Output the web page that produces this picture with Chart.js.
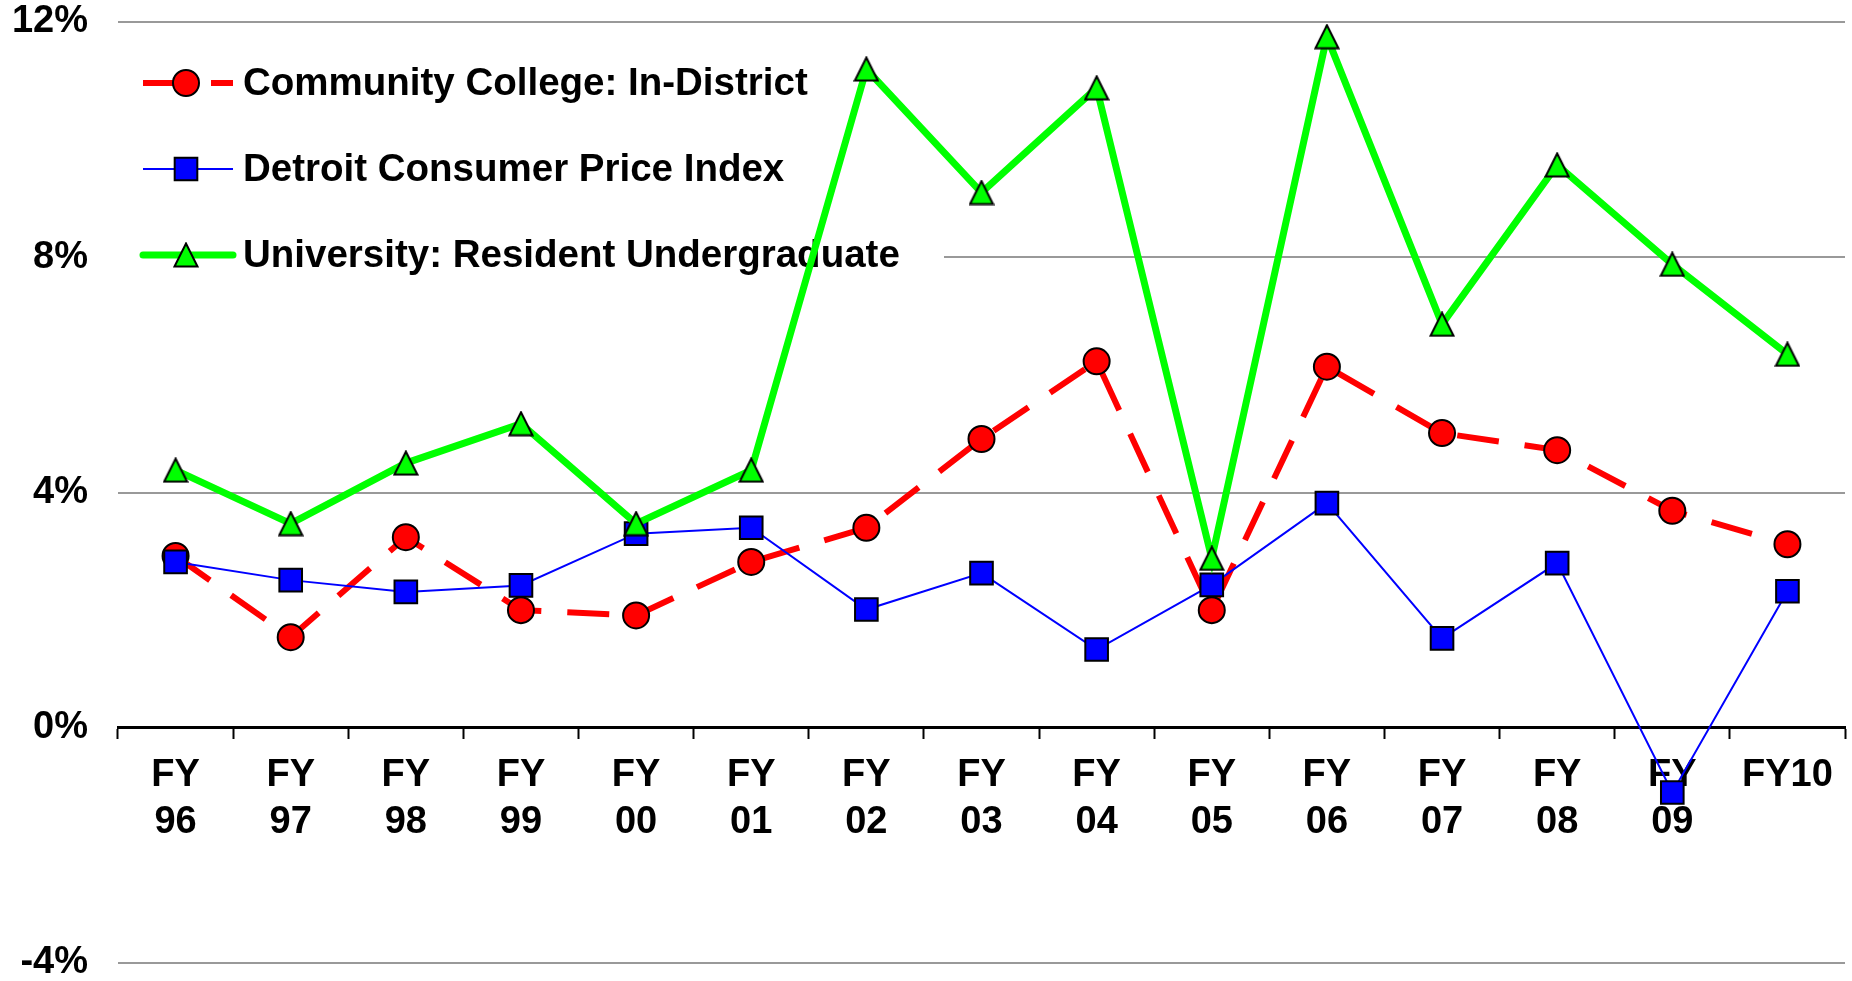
<!DOCTYPE html>
<html>
<head>
<meta charset="utf-8">
<title>Tuition increases vs Detroit CPI</title>
<script src="https://cdn.jsdelivr.net/npm/chart.js@4/dist/chart.umd.min.js"></script>
<style>
	html, body { margin: 0; padding: 0; background: #fff; overflow: hidden; }
	#wrap { position: relative; width: 1852px; height: 981px; }
	#wrap canvas { display: block; }
</style>
</head>
<body>
<div id="wrap"><canvas id="chart"></canvas></div>
<script>
// fiscal years on the x axis (two-line labels like the original)
var fiscalYears = [
	['FY', '96'], ['FY', '97'], ['FY', '98'], ['FY', '99'], ['FY', '00'],
	['FY', '01'], ['FY', '02'], ['FY', '03'], ['FY', '04'], ['FY', '05'],
	['FY', '06'], ['FY', '07'], ['FY', '08'], ['FY', '09'], 'FY10'
];

// yearly % increase
var communityCollege = [2.92, 1.54, 3.24, 2.0, 1.91, 2.82, 3.4, 4.91, 6.23, 2.0, 6.14, 5.01, 4.72, 3.69, 3.12];
var detroitCPI = [2.82, 2.51, 2.31, 2.42, 3.3, 3.4, 2.01, 2.63, 1.33, 2.43, 3.82, 1.52, 2.8, -1.1, 2.32];
var university = [4.38, 3.47, 4.5, 5.17, 3.47, 4.38, 11.2, 9.1, 10.88, 2.88, 11.75, 6.86, 9.57, 7.88, 6.35];

var yTicks = { min: -4, max: 12, step: 4 };

var FONT = "'Liberation Sans', Arial, Helvetica, sans-serif";

// Excel-ish triangle marker (equal width and height, centred on the point)
function makeTriangle(size, fill) {
	var c = document.createElement('canvas');
	c.width = size; c.height = size;
	var g = c.getContext('2d');
	g.beginPath();
	g.moveTo(size / 2, 1.5);
	g.lineTo(size - 1.5, size - 1.5);
	g.lineTo(1.5, size - 1.5);
	g.closePath();
	g.fillStyle = fill;
	g.fill();
	g.lineWidth = 2;
	g.strokeStyle = '#000';
	g.stroke();
	return c;
}

function drawMarker(ctx, ds, x, y) {
	var st = ds.pointStyle;
	if (st instanceof HTMLCanvasElement) {
		ctx.drawImage(st, x - st.width / 2, y - st.height / 2);
		return;
	}
	var r = ds.pointRadius;
	ctx.beginPath();
	if (st === 'rect') {
		var s = r * Math.SQRT1_2;
		ctx.rect(x - s, y - s, 2 * s, 2 * s);
	} else {
		ctx.arc(x, y, r, 0, Math.PI * 2);
	}
	ctx.fillStyle = ds.pointBackgroundColor;
	ctx.strokeStyle = ds.pointBorderColor;
	ctx.lineWidth = ds.pointBorderWidth;
	ctx.setLineDash([]);
	ctx.fill();
	ctx.stroke();
}

// legend drawn inside the plot, over the grid but under the lines
var insideLegend = {
	id: 'insideLegend',
	beforeDatasetsDraw: function(chart, args, opts) {
		var ctx = chart.ctx;
		var area = chart.chartArea;
		ctx.save();
		ctx.fillStyle = '#fff';
		ctx.fillRect(area.left, opts.top, opts.boxRight - area.left, opts.boxBottom - opts.top);
		chart.data.datasets.forEach(function(ds, i) {
			var y = opts.firstY + i * opts.rowGap;
			ctx.save();
			ctx.beginPath();
			ctx.moveTo(opts.lineFrom, y);
			ctx.lineTo(opts.lineTo, y);
			ctx.strokeStyle = ds.borderColor;
			ctx.lineWidth = ds.borderWidth;
			ctx.lineCap = ds.legendCap || 'butt';
			ctx.setLineDash(ds.borderDash || []);
			ctx.stroke();
			ctx.restore();
			drawMarker(ctx, ds, opts.markerX, y);
			ctx.fillStyle = '#000';
			ctx.font = 'bold 38.5px ' + FONT;
			ctx.textBaseline = 'middle';
			ctx.textAlign = 'left';
			ctx.fillText(ds.label, opts.textX, y + 1);
		});
		ctx.restore();
	}
};

Chart.defaults.font.family = FONT;
Chart.defaults.color = '#000';

var chart = new Chart(document.getElementById('chart'), {
	type: 'line',
	data: {
		labels: fiscalYears,
		datasets: [{
			label: 'Community College: In-District',
			data: communityCollege,
			borderColor: '#ff0000',
			borderWidth: 6,
			borderDash: [42, 26],
			pointStyle: 'circle',
			pointRadius: 13,
			pointBackgroundColor: '#ff0000',
			pointBorderColor: '#000',
			pointBorderWidth: 2,
			order: 2
		}, {
			label: 'Detroit Consumer Price Index',
			data: detroitCPI,
			borderColor: '#0000ff',
			borderWidth: 2,
			pointStyle: 'rect',
			pointRadius: 16,
			pointBackgroundColor: '#0000ff',
			pointBorderColor: '#000',
			pointBorderWidth: 2,
			order: 1
		}, {
			label: 'University: Resident Undergraduate',
			data: university,
			borderColor: '#00ff00',
			borderWidth: 7,
			legendCap: 'round',
			pointStyle: makeTriangle(26, '#00ff00'),
			pointRadius: 13,
			pointBackgroundColor: '#00ff00',
			pointBorderColor: '#000',
			pointBorderWidth: 2,
			order: 0
		}]
	},
	options: {
		responsive: true,
		maintainAspectRatio: false,
		animation: false,
		// no auto padding: the plot edges are fixed to match the original
		layout: { autoPadding: false, padding: { top: 22, bottom: 18, right: 7, left: 0 } },
		elements: { line: { tension: 0, fill: false } },
		plugins: {
			legend: { display: false },
			tooltip: { enabled: false },
			insideLegend: {
				top: 38, boxBottom: 300, boxRight: 944,
				firstY: 83, rowGap: 86,
				lineFrom: 143, lineTo: 233, markerX: 186, textX: 243
			}
		},
		scales: {
			x: {
				type: 'category',
				offset: true,
				position: { y: 0 },
				grid: {
					display: true,
					offset: true,
					drawOnChartArea: false,
					drawTicks: true,
					tickLength: 10,
					tickColor: '#000',
					tickWidth: 2
				},
				border: { display: true, color: '#000', width: 3 },
				ticks: {
					autoSkip: false,
					maxRotation: 0,
					minRotation: 0,
					padding: 14,
					color: '#000',
					font: { size: 38, weight: 'bold', lineHeight: 1.24 }
				},
				afterFit: function(scale) {
					// axis sits on the 0% line, so it should not eat layout space
					scale.height = 0;
					scale.paddingLeft = 0;
					scale.paddingRight = 0;
				}
			},
			y: {
				min: yTicks.min,
				max: yTicks.max,
				grid: {
					drawTicks: false,
					color: function(c) { return c.tick && c.tick.value === 0 ? 'rgba(0,0,0,0)' : '#999999'; },
					lineWidth: 2
				},
				border: { display: false },
				ticks: {
					stepSize: yTicks.step,
					padding: 30,
					color: '#000',
					font: { size: 38, weight: 'bold' },
					callback: function(v) { return v + '%'; }
				},
				afterFit: function(scale) {
					scale.width = 118;
					scale.paddingTop = 0;
					scale.paddingBottom = 0;
				}
			}
		}
	},
	plugins: [insideLegend]
});
</script>
</body>
</html>
